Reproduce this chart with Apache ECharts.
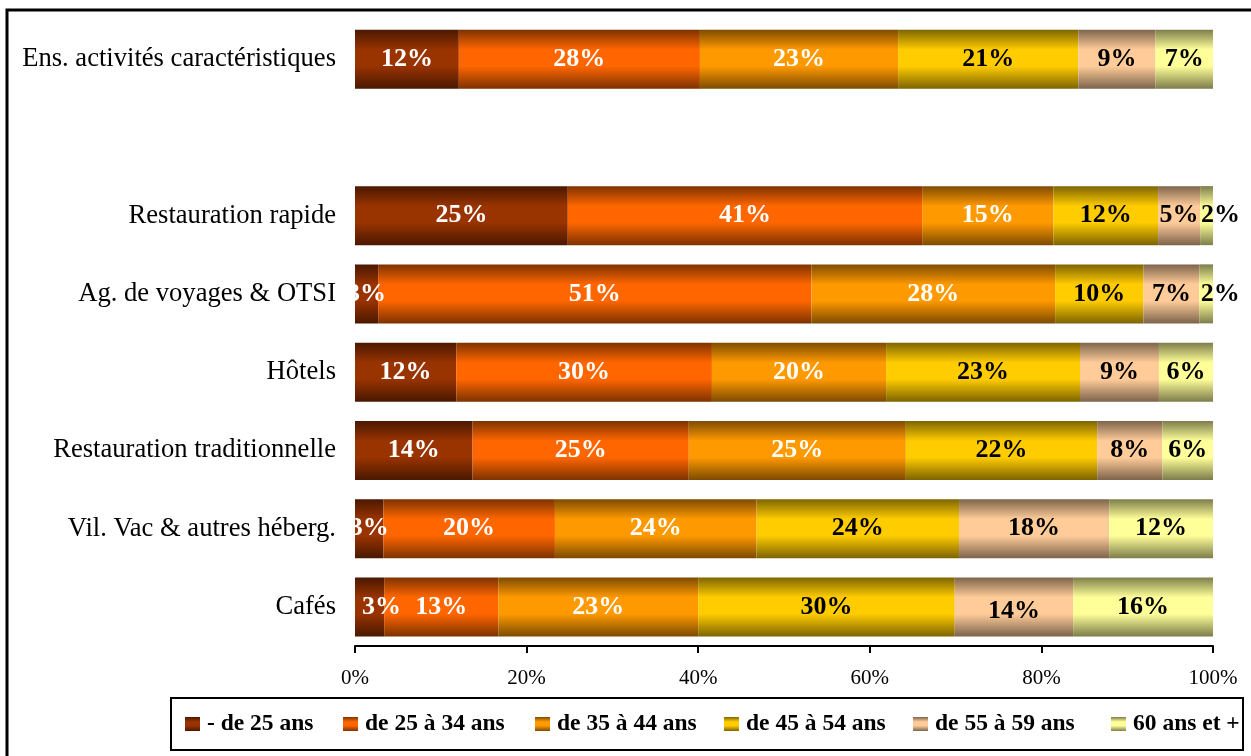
<!DOCTYPE html>
<html>
<head>
<meta charset="utf-8">
<script src="https://cdn.jsdelivr.net/npm/echarts@6/dist/echarts.min.js"></script>
<style>
  html, body { margin: 0; padding: 0; background: #fff; }
  #chart { width: 1251px; height: 756px; }
</style>
</head>
<body>
<div id="chart"></div>
<script>
// Activity categories, top to bottom (the empty entry leaves a gap row)
const categories = [
  'Ens. activités caractéristiques',
  '',
  'Restauration rapide',
  'Ag. de voyages & OTSI',
  'Hôtels',
  'Restauration traditionnelle',
  'Vil. Vac & autres héberg.',
  'Cafés'
];

// Age bracket names
const ageGroups = ['- de 25 ans', 'de 25 à 34 ans', 'de 35 à 44 ans',
                   'de 45 à 54 ans', 'de 55 à 59 ans', '60 ans et +'];

// Share of employees (%) per age bracket, in category order
const under25 = [12.1, '-', 24.8, 2.7, 11.8, 13.7, 3.3, 3.4];
const age25to34 = [28.1, '-', 41.3, 50.5, 29.8, 25.2, 20.0, 13.3];
const age35to44 = [23.1, '-', 15.3, 28.4, 20.3, 25.3, 23.5, 23.3];
const age45to54 = [21.0, '-', 12.2, 10.3, 22.6, 22.3, 23.6, 29.9];
const age55to59 = [9.0, '-', 4.9, 6.5, 9.2, 7.6, 17.5, 13.8];
const age60plus = [6.7, '-', 1.5, 1.6, 6.3, 5.9, 12.1, 16.3];

// Axis tick values
const xTicks = [0, 20, 40, 60, 80, 100];

const seriesValues = [under25, age25to34, age35to44, age45to54, age55to59, age60plus];

// Bright centre colour and darker edge colour of each shaded bar
const midColors = ['#993300', '#FF6600', '#FF9900', '#FFCC00', '#FFCC99', '#FFFF99'];
const edgeColors = ['#4a1800', '#7d3200', '#7d4b00', '#7d6400', '#7d644b', '#7d7d4b'];
const labelColors = ['#fff', '#fff', '#fff', '#000', '#000', '#000'];

// Small label nudges where neighbouring labels would collide: [series, category, dx, dy]
const labelNudges = [[0, 7, 12, 0], [5, 2, 14, 0], [5, 3, 14, 0], [4, 7, 0, 4]];

const serif = "'Liberation Serif', 'Times New Roman', serif";

function shade(i) {
  return {
    type: 'linear', x: 0, y: 0, x2: 0, y2: 1,
    colorStops: [
      { offset: 0, color: edgeColors[i] },
      { offset: 0.34, color: midColors[i] },
      { offset: 0.62, color: midColors[i] },
      { offset: 1, color: edgeColors[i] }
    ]
  };
}

const series = seriesValues.map((vals, i) => ({
  name: ageGroups[i],
  type: 'bar',
  stack: 'total',
  barWidth: 59,
  data: vals.map((v, j) => {
    const n = labelNudges.find(a => a[0] === i && a[1] === j);
    return n ? { value: v, label: { offset: [n[2], n[3]] } } : v;
  }),
  itemStyle: { color: shade(i) },
  label: {
    show: true,
    position: 'inside',
    color: labelColors[i],
    fontFamily: serif,
    fontWeight: 'bold',
    fontSize: 26,
    formatter: p => Math.round(p.value) + '%'
  },
  emphasis: { disabled: true }
}));

// One legend block per bracket so each entry sits at its own spot in the box
const legendLeft = [185, 343, 535, 724, 913, 1111];
const legends = ageGroups.map((name, i) => ({
  data: [{ name: name, icon: 'rect' }],
  left: legendLeft[i],
  top: 712,
  padding: 0,
  itemWidth: 15,
  itemHeight: 14,
  itemGap: 0,
  selectedMode: false,
  textStyle: { fontFamily: serif, fontWeight: 'bold', fontSize: 23.5, color: '#000', padding: [0, 0, 0, 2] }
}));

const chart = echarts.init(document.getElementById('chart'), null, { renderer: 'canvas' });
chart.setOption({
  animation: false,
  backgroundColor: '#fff',
  grid: { left: 355, right: 38, top: 20, bottom: 110, containLabel: false },
  xAxis: {
    type: 'value',
    min: xTicks[0],
    max: xTicks[xTicks.length - 1],
    interval: xTicks[1] - xTicks[0],
    axisLine: { show: true, lineStyle: { color: '#000', width: 2 } },
    axisTick: { show: true, length: 7, lineStyle: { color: '#000', width: 2 } },
    splitLine: { show: false },
    axisLabel: { fontFamily: serif, fontSize: 21, color: '#000', margin: 22, formatter: '{value}%' }
  },
  yAxis: {
    type: 'category',
    inverse: true,
    data: categories,
    axisLine: { show: false },
    axisTick: { show: false },
    axisLabel: { fontFamily: serif, fontSize: 26.6, color: '#000', margin: 19 }
  },
  legend: legends,
  graphic: [
    {
      type: 'rect', silent: true,
      shape: { x: 7, y: 10, width: 1260, height: 760 },
      style: { fill: 'none', stroke: '#000', lineWidth: 3 }
    },
    {
      type: 'rect', silent: true,
      shape: { x: 171, y: 698, width: 1072, height: 52 },
      style: { fill: 'none', stroke: '#000', lineWidth: 2 }
    }
  ],
  series: series
});
</script>
</body>
</html>
